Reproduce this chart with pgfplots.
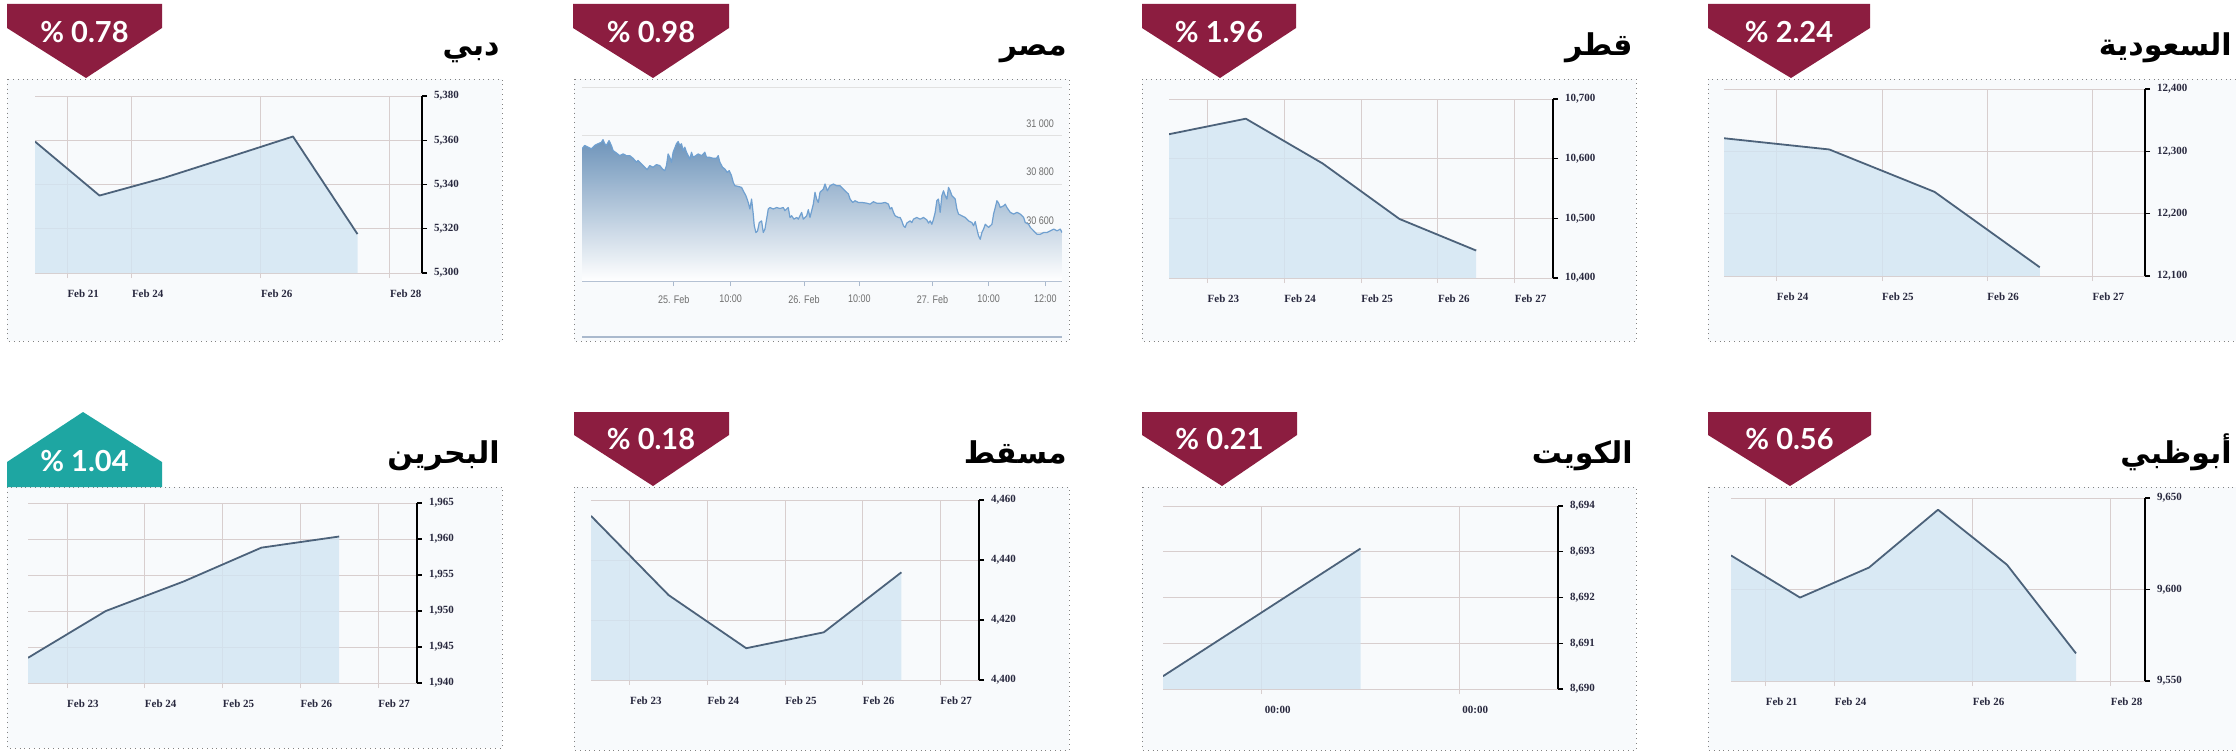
\documentclass[border=0pt]{standalone}
\usepackage{pgfplots}
\pgfplotsset{compat=1.18}
\usepackage{fontspec}
\setmainfont{Liberation Serif}
\newfontfamily\arabicfont[Script=Arabic]{DejaVu Sans}
\newfontfamily\badgefont{Lato}
\newfontfamily\tickfont{Liberation Serif}
\newfontfamily\condfont[FakeStretch=0.82]{Liberation Sans}
\TeXXeTstate=1

\definecolor{badgered}{RGB}{140,29,64}
\definecolor{badgeteal}{RGB}{30,166,162}
\definecolor{gridc}{RGB}{216,206,206}
\definecolor{fillc}{RGB}{210,229,243}
\definecolor{linec}{RGB}{76,98,122}
\definecolor{tickc}{RGB}{40,40,62}
\definecolor{framec}{RGB}{130,130,130}
\definecolor{framebg}{RGB}{248,250,252}
\definecolor{egline}{RGB}{112,160,208}
\definecolor{egtop}{RGB}{110,148,186}
\definecolor{eggrid}{RGB}{225,225,225}
\definecolor{egaxis}{RGB}{170,185,205}
\definecolor{egtick}{RGB}{110,110,110}

\pgfplotsset{
  gcc/.style={
    scale only axis, anchor=south west,
    axis x line*=bottom, axis y line*=right,
    x axis line style={draw=gridc},
    y axis line style={draw=black, line width=0.7pt},
    xmajorgrids, ymajorgrids,
    grid style={draw=gridc, line width=0.4pt},
    tick align=outside, major tick length=2.5pt,
    xtick style={draw=gridc, line width=0.4pt},
    ytick style={draw=black, line width=0.7pt},
    scaled y ticks=false,
    /pgf/number format/assume math mode=true,
    /pgf/number format/1000 sep={,},
    ticklabel style={font=\tickfont\bfseries\fontsize{5.5}{6}\selectfont, text=tickc},
    xticklabel style={anchor=center, xshift=8pt, yshift=-8pt},
    yticklabel style={anchor=west},
  },
  area/.style={draw=none, fill=fillc, fill opacity=0.8},
  ln/.style={draw=linec, line width=0.9pt, line join=round},
}

\newcommand{\titlefont}{\arabicfont\bfseries\fontsize{15}{18}\selectfont}
\newcommand{\bfont}{\badgefont\bfseries\fontsize{14.5}{16}\selectfont}

\begin{document}
\begin{tikzpicture}
\path[use as bounding box] (0,0) rectangle (1118pt,376pt);
\clip (0,0) rectangle (1118pt,376pt);
\fill[white] (0,0) rectangle (1118pt,376pt);

% panel frames (pixel units)
\begin{scope}[x=0.5pt,y=0.5pt]
\foreach \a/\b/\c/\d in {7/673/502/411, 574/673/1069/411, 1142/673/1636/411, 1708/673/2250/411,
                         7/265/502/4, 574/265/1069/2, 1142/265/1636/2, 1708/265/2250/2}
  \draw[framec, fill=framebg, line width=0.4pt, dotted] (\a,\b) rectangle (\c,\d);
\draw[egaxis, line width=0.8pt] (582,415) -- (1062,415);
\end{scope}

% Dubai
\begin{axis}[gcc, at={(17.5pt,239.5pt)}, width=193.5pt, height=88.5pt,
  xmin=0.5, xmax=6.5, ymin=5300, ymax=5380,
  xtick={1,2,4,6}, xticklabels={Feb 21,Feb 24,Feb 26,Feb 28},
  ytick={5300,5320,...,5380}]
\addplot[area] coordinates {(0.5,5359.4)(1.5,5335)(2.5,5343)(3.5,5352.3)(4.5,5361.7)(5.5,5317.6)} \closedcycle;
\addplot[ln] coordinates {(0.5,5359.4)(1.5,5335)(2.5,5343)(3.5,5352.3)(4.5,5361.7)(5.5,5317.6)};
\end{axis}

% Egypt
\begin{axis}[scale only axis, anchor=south west, at={(291pt,235.5pt)}, width=240pt, height=97pt,
  xmin=37, xmax=1475, ymin=30400, ymax=31200,
  axis x line*=bottom, axis y line*=right,
  x axis line style={draw=egaxis, line width=0.5pt},
  y axis line style={draw=none},
  ymajorgrids, grid style={draw=eggrid, line width=0.5pt},
  scaled y ticks=false,
  xtick={312,482,702,868,1087,1255,1425},
  xticklabels={25. Feb,10:00,26. Feb,10:00,27. Feb,10:00,12:00},
  ytick={30400,30600,30800,31000,31200},
  yticklabels={30 400,30 600,30 800,31 000,},
  tick align=outside, major tick length=2.5pt,
  xtick style={draw=egaxis, line width=0.4pt},
  ytick style={draw=none},
  ticklabel style={font=\condfont\fontsize{5.5}{6}\selectfont, text=egtick},
  xticklabel style={anchor=north, yshift=-1pt},
  yticklabel style={anchor=south east, xshift=-3pt, yshift=0.5pt},
]
\addplot[draw=none, top color=egtop, bottom color=white] coordinates {
(37,30945) (45,30959) (55,30952) (65,30945) (75,30959) (85,30966) (95,30972) (100,30983) (105,30966) (110,30959) (118,30979) (125,30959) (130,30938) (140,30928) (150,30917) (160,30924) (170,30917) (180,30917) (190,30906) (200,30890) (205,30897) (215,30883) (225,30869) (232,30859) (240,30876) (250,30869) (260,30880) (270,30876) (278,30862) (285,30855) (290,30876) (295,30924) (300,30910) (305,30890) (310,30931) (320,30966) (325,30975) (330,30959) (335,30966) (340,30938) (345,30952) (350,30931) (355,30917) (360,30903) (365,30931) (370,30910) (378,30917) (385,30924) (395,30917) (405,30931) (410,30910) (420,30910) (430,30906) (440,30906) (445,30917) (450,30890) (458,30869) (465,30862) (472,30848) (478,30855) (485,30834) (490,30807) (495,30793) (505,30790) (515,30786) (520,30772) (528,30752) (535,30724) (540,30697) (545,30738) (550,30676) (553,30628) (558,30600) (563,30607) (568,30641) (575,30648) (580,30600) (585,30614) (590,30655) (595,30697) (600,30703) (610,30697) (620,30703) (630,30699) (640,30703) (645,30690) (650,30697) (655,30703) (660,30662) (665,30669) (672,30655) (680,30662) (685,30655) (690,30669) (695,30683) (700,30655) (710,30669) (715,30694) (720,30662) (725,30690) (730,30717) (735,30766) (740,30738) (745,30724) (750,30766) (760,30779) (765,30800) (772,30772) (780,30793) (790,30800) (800,30793) (810,30793) (820,30779) (825,30772) (835,30759) (840,30738) (848,30724) (855,30731) (865,30724) (875,30724) (890,30721) (900,30717) (910,30727) (920,30721) (935,30721) (945,30724) (955,30717) (960,30697) (965,30703) (970,30683) (975,30669) (985,30662) (990,30662) (995,30648) (1000,30628) (1005,30621) (1010,30639) (1020,30648) (1025,30641) (1030,30655) (1040,30662) (1050,30655) (1060,30662) (1070,30652) (1075,30639) (1080,30648) (1085,30634) (1090,30655) (1095,30683) (1100,30731) (1105,30738) (1110,30683) (1115,30752) (1120,30772) (1125,30752) (1130,30738) (1135,30786) (1140,30772) (1145,30752) (1150,30745) (1155,30738) (1160,30697) (1165,30676) (1175,30669) (1185,30662) (1195,30648) (1205,30641) (1210,30628) (1215,30645) (1220,30614) (1225,30586) (1230,30572) (1235,30600) (1240,30614) (1245,30634) (1255,30621) (1265,30634) (1270,30676) (1275,30703) (1280,30731) (1285,30721) (1290,30703) (1300,30710) (1305,30717) (1310,30703) (1320,30683) (1330,30676) (1340,30683) (1350,30676) (1360,30662) (1365,30641) (1375,30634) (1380,30621) (1390,30607) (1400,30593) (1410,30593) (1420,30600) (1430,30600) (1440,30607) (1450,30614) (1460,30607) (1470,30614) (1475,30600)
} \closedcycle;
\addplot[egline, line width=0.6pt, line join=round] coordinates {
(37,30945) (45,30959) (55,30952) (65,30945) (75,30959) (85,30966) (95,30972) (100,30983) (105,30966) (110,30959) (118,30979) (125,30959) (130,30938) (140,30928) (150,30917) (160,30924) (170,30917) (180,30917) (190,30906) (200,30890) (205,30897) (215,30883) (225,30869) (232,30859) (240,30876) (250,30869) (260,30880) (270,30876) (278,30862) (285,30855) (290,30876) (295,30924) (300,30910) (305,30890) (310,30931) (320,30966) (325,30975) (330,30959) (335,30966) (340,30938) (345,30952) (350,30931) (355,30917) (360,30903) (365,30931) (370,30910) (378,30917) (385,30924) (395,30917) (405,30931) (410,30910) (420,30910) (430,30906) (440,30906) (445,30917) (450,30890) (458,30869) (465,30862) (472,30848) (478,30855) (485,30834) (490,30807) (495,30793) (505,30790) (515,30786) (520,30772) (528,30752) (535,30724) (540,30697) (545,30738) (550,30676) (553,30628) (558,30600) (563,30607) (568,30641) (575,30648) (580,30600) (585,30614) (590,30655) (595,30697) (600,30703) (610,30697) (620,30703) (630,30699) (640,30703) (645,30690) (650,30697) (655,30703) (660,30662) (665,30669) (672,30655) (680,30662) (685,30655) (690,30669) (695,30683) (700,30655) (710,30669) (715,30694) (720,30662) (725,30690) (730,30717) (735,30766) (740,30738) (745,30724) (750,30766) (760,30779) (765,30800) (772,30772) (780,30793) (790,30800) (800,30793) (810,30793) (820,30779) (825,30772) (835,30759) (840,30738) (848,30724) (855,30731) (865,30724) (875,30724) (890,30721) (900,30717) (910,30727) (920,30721) (935,30721) (945,30724) (955,30717) (960,30697) (965,30703) (970,30683) (975,30669) (985,30662) (990,30662) (995,30648) (1000,30628) (1005,30621) (1010,30639) (1020,30648) (1025,30641) (1030,30655) (1040,30662) (1050,30655) (1060,30662) (1070,30652) (1075,30639) (1080,30648) (1085,30634) (1090,30655) (1095,30683) (1100,30731) (1105,30738) (1110,30683) (1115,30752) (1120,30772) (1125,30752) (1130,30738) (1135,30786) (1140,30772) (1145,30752) (1150,30745) (1155,30738) (1160,30697) (1165,30676) (1175,30669) (1185,30662) (1195,30648) (1205,30641) (1210,30628) (1215,30645) (1220,30614) (1225,30586) (1230,30572) (1235,30600) (1240,30614) (1245,30634) (1255,30621) (1265,30634) (1270,30676) (1275,30703) (1280,30731) (1285,30721) (1290,30703) (1300,30710) (1305,30717) (1310,30703) (1320,30683) (1330,30676) (1340,30683) (1350,30676) (1360,30662) (1365,30641) (1375,30634) (1380,30621) (1390,30607) (1400,30593) (1410,30593) (1420,30600) (1430,30600) (1440,30607) (1450,30614) (1460,30607) (1470,30614) (1475,30600)
};
\end{axis}

% Qatar
\begin{axis}[gcc, at={(584.5pt,237pt)}, width=192pt, height=89.5pt,
  xmin=0.5, xmax=5.5, ymin=10400, ymax=10700,
  xtick={1,2,3,4,5}, xticklabels={Feb 23,Feb 24,Feb 25,Feb 26,Feb 27},
  ytick={10400,10500,10600,10700}]
\addplot[area] coordinates {(0.5,10641)(1.5,10667)(2.5,10592)(3.5,10499)(4.5,10446)} \closedcycle;
\addplot[ln] coordinates {(0.5,10641)(1.5,10667)(2.5,10592)(3.5,10499)(4.5,10446)};
\end{axis}

% Saudi
\begin{axis}[gcc, at={(862pt,238pt)}, width=210.5pt, height=93.5pt,
  xmin=0.5, xmax=4.5, ymin=12100, ymax=12400,
  xtick={1,2,3,4}, xticklabels={Feb 24,Feb 25,Feb 26,Feb 27},
  ytick={12100,12200,12300,12400}]
\addplot[area] coordinates {(0.5,12321)(1.5,12303)(2.5,12235)(3.5,12114)} \closedcycle;
\addplot[ln] coordinates {(0.5,12321)(1.5,12303)(2.5,12235)(3.5,12114)};
\end{axis}

% Bahrain
\begin{axis}[gcc, at={(14pt,34.5pt)}, width=194.5pt, height=90pt,
  xmin=0.5, xmax=5.5, ymin=1940, ymax=1965,
  xtick={1,2,3,4,5}, xticklabels={Feb 23,Feb 24,Feb 25,Feb 26,Feb 27},
  ytick={1940,1945,...,1965}]
\addplot[area] coordinates {(0.5,1943.5)(1.5,1950.0)(2.5,1954.1)(3.5,1958.8)(4.5,1960.35)} \closedcycle;
\addplot[ln] coordinates {(0.5,1943.5)(1.5,1950.0)(2.5,1954.1)(3.5,1958.8)(4.5,1960.35)};
\end{axis}

% Muscat
\begin{axis}[gcc, at={(295.5pt,36pt)}, width=194pt, height=90pt,
  xmin=0.5, xmax=5.5, ymin=4400, ymax=4460,
  xtick={1,2,3,4,5}, xticklabels={Feb 23,Feb 24,Feb 25,Feb 26,Feb 27},
  ytick={4400,4420,4440,4460}]
\addplot[area] coordinates {(0.5,4454.7)(1.5,4428.3)(2.5,4410.6)(3.5,4415.9)(4.5,4435.9)} \closedcycle;
\addplot[ln] coordinates {(0.5,4454.7)(1.5,4428.3)(2.5,4410.6)(3.5,4415.9)(4.5,4435.9)};
\end{axis}

% Kuwait
\begin{axis}[gcc, at={(581.5pt,31.5pt)}, width=197.5pt, height=91.5pt,
  xmin=0.5, xmax=2.5, ymin=8690, ymax=8694,
  xtick={1,2}, xticklabels={00:00,00:00},
  ytick={8690,8691,...,8694}]
\addplot[area] coordinates {(0.5,8690.28)(1.5,8693.07)} \closedcycle;
\addplot[ln] coordinates {(0.5,8690.28)(1.5,8693.07)};
\end{axis}

% Abu Dhabi
\begin{axis}[gcc, at={(865.5pt,35.5pt)}, width=207pt, height=91.5pt,
  xmin=0.5, xmax=6.5, ymin=9550, ymax=9650,
  xtick={1,2,4,6}, xticklabels={Feb 21,Feb 24,Feb 26,Feb 28},
  ytick={9550,9600,9650}]
\addplot[area] coordinates {(0.5,9618.6)(1.5,9595.6)(2.5,9612)(3.5,9643.6)(4.5,9613.5)(5.5,9565.1)} \closedcycle;
\addplot[ln] coordinates {(0.5,9618.6)(1.5,9595.6)(2.5,9612)(3.5,9643.6)(4.5,9613.5)(5.5,9565.1)};
\end{axis}

% badges and titles (pixel units)
\begin{scope}[x=0.5pt,y=0.5pt]
\foreach \l/\r/\p in {7/162/86, 573/729/653, 1142/1296/1220, 1708/1870/1791}
  \fill[badgered] (\l,748) -- (\r,748) -- (\r,724) -- (\p,674) -- (\l,724) -- cycle;
\foreach \l/\r/\p in {574/729/653, 1142/1297/1222, 1708/1871/1790}
  \fill[badgered] (\l,340) -- (\r,340) -- (\r,317) -- (\p,266) -- (\l,317) -- cycle;
\fill[badgeteal] (7,265) -- (162,265) -- (162,290) -- (83,340) -- (7,290) -- cycle;

\node[white, font=\bfont] at (84.5,720) {\% 0.78};
\node[white, font=\bfont] at (651,720) {\% 0.98};
\node[white, font=\bfont] at (1219,720) {\% 1.96};
\node[white, font=\bfont] at (1789,720) {\% 2.24};
\node[white, font=\bfont] at (84.5,291) {\% 1.04};
\node[white, font=\bfont] at (651,313) {\% 0.18};
\node[white, font=\bfont] at (1219.5,313) {\% 0.21};
\node[white, font=\bfont] at (1789.5,313) {\% 0.56};

\node[anchor=base east, font=\titlefont, inner sep=0pt] at (500,697) {\beginR دبي\endR};
\node[anchor=base east, font=\titlefont, inner sep=0pt] at (1067,697) {\beginR مصر\endR};
\node[anchor=base east, font=\titlefont, inner sep=0pt] at (1633,697) {\beginR قطر\endR};
\node[anchor=base east, font=\titlefont, inner sep=0pt] at (2232,697) {\beginR السعودية\endR};
\node[anchor=base east, font=\titlefont, inner sep=0pt] at (500,289) {\beginR البحرين\endR};
\node[anchor=base east, font=\titlefont, inner sep=0pt] at (1067,289) {\beginR مسقط\endR};
\node[anchor=base east, font=\titlefont, inner sep=0pt] at (1633,289) {\beginR الكويت\endR};
\node[anchor=base east, font=\titlefont, inner sep=0pt] at (2232,289) {\beginR أبوظبي\endR};
\end{scope}
\end{tikzpicture}
\end{document}
